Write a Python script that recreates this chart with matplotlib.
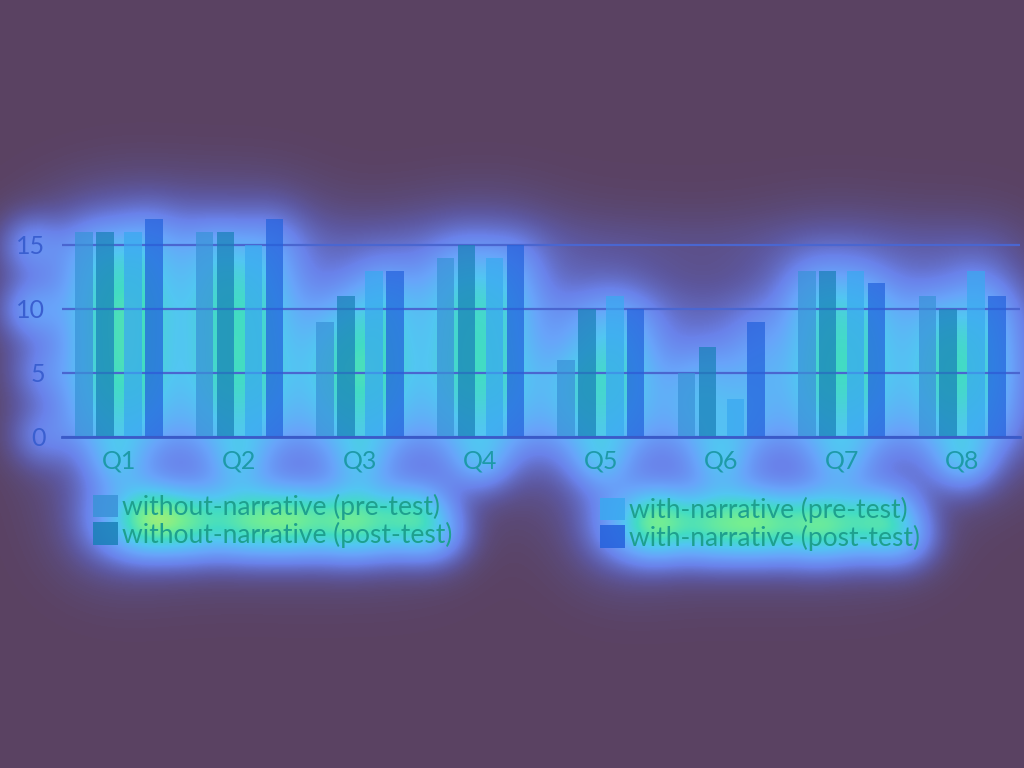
import numpy as np
import matplotlib
matplotlib.use("Agg")
import matplotlib.pyplot as plt
from matplotlib.colors import LinearSegmentedColormap
from matplotlib.patches import Patch, Rectangle

# ---------------- data ----------------
categories = ["Q1", "Q2", "Q3", "Q4", "Q5", "Q6", "Q7", "Q8"]
without_pre = [16, 16, 9, 14, 6, 5, 13, 11]
without_post = [16, 16, 11, 15, 10, 7, 13, 10]
with_pre = [16, 15, 13, 14, 11, 3, 13, 13]
with_post = [17, 17, 13, 15, 10, 9, 12, 11]
series_labels = ["without-narrative (pre-test)", "without-narrative (post-test)",
                 "with-narrative (pre-test)", "with-narrative (post-test)"]
y_ticks = [0, 5, 10, 15]

# ---------------- style ----------------
BG = "#5a4262"
bar_colors = ["#3a92d8", "#1a80b8", "#3aa8f0", "#2462dc"]
offsets = [-0.29, -0.116, 0.116, 0.29]
FONT = ["Lato", "DejaVu Sans"]
plt.rcParams["font.family"] = FONT

W, H = 1024, 768
fig = plt.figure(figsize=(W / 100, H / 100), dpi=100, facecolor=BG)
ax = fig.add_axes([62 / W, (H - 437) / H, (1020 - 62) / W, 17.5 * 12.8 / H])
ax.set_facecolor("none")

x = np.arange(len(categories))
all_series = [without_pre, without_post, with_pre, with_post]
for vals, off, col, lab in zip(all_series, offsets, bar_colors, series_labels):
    ax.bar(x + off, vals, width=0.145, color=col, alpha=0.72, zorder=2, label=lab)

ax.set_xlim(-0.473, 7.48)
ax.set_ylim(0, 17.5)
ax.set_yticks(y_ticks)
ax.set_xticks(x)
ax.set_xticklabels(categories)
ax.grid(axis="y", color="#4a66d0", lw=1.6, zorder=1)
ax.set_axisbelow(True)
for s in ["top", "right", "left"]:
    ax.spines[s].set_visible(False)
ax.spines["bottom"].set_color("#3a5ac8")
ax.spines["bottom"].set_linewidth(2)
ax.spines["bottom"].set_zorder(3)
ax.tick_params(axis="y", length=0, pad=12, labelsize=18, labelcolor="#3a5fd0")
ax.tick_params(axis="x", length=0, pad=9, labelsize=18, labelcolor="#1e9aa8")

handles = [Patch(facecolor=c, alpha=0.85) for c in bar_colors]
common = dict(loc="upper left", frameon=False, fontsize=19, handlelength=0.95,
              handleheight=0.95, handletextpad=0.15, labelspacing=0.05, borderpad=0,
              borderaxespad=0, labelcolor="#1ea08e")
leg1 = fig.legend(handles[:2], series_labels[:2], bbox_to_anchor=(93 / W, 1 - 494 / H), **common)
leg2 = fig.legend(handles[2:], series_labels[2:], bbox_to_anchor=(600 / W, 1 - 497 / H), **common)

# ---------------- saliency-style glow built from the chart itself ----------------
def render_alpha():
    fig.canvas.draw()
    return np.asarray(fig.canvas.buffer_rgba())[..., 3].astype(float) / 255.0

def blur(a, s):
    p = int(3 * s)
    ap = np.pad(a, p)
    hh, ww = ap.shape
    ky = np.fft.fftfreq(hh)[:, None]
    kx = np.fft.rfftfreq(ww)[None, :]
    g = np.exp(-2 * (np.pi * s) ** 2 * (kx ** 2 + ky ** 2))
    out = np.fft.irfft2(np.fft.rfft2(ap) * g, s=(hh, ww))
    return out[p:p + a.shape[0], p:p + a.shape[1]]

fig.patch.set_alpha(0)
mask_all = render_alpha()
hidden = list(ax.patches) + list(ax.get_ygridlines()) + [ax.spines["bottom"]] + \
    list(leg1.legend_handles) + list(leg2.legend_handles)
for a in hidden:
    a.set_visible(False)
mask_text = render_alpha()
for a in hidden:
    a.set_visible(True)
fig.patch.set_alpha(1)
mask_other = np.clip(mask_all - mask_text, 0, 1)

heat = 0.72 * blur(mask_other, 22) + 4.6 * blur(mask_text, 20) + 0.9 * blur(mask_all, 45)
heat = np.clip(heat, 0, 1)

cmap = LinearSegmentedColormap.from_list("glow", [
    (0.00, BG), (0.10, "#5d58a0"), (0.25, "#6a82ea"), (0.42, "#68a4fa"),
    (0.60, "#52c6f2"), (0.74, "#42dcc4"), (0.87, "#74ee92"), (1.00, "#c8f060")])
rgb = cmap(heat)[..., :3]
fig.figimage(rgb, xo=0, yo=0, origin="upper", zorder=-10)

# slightly lighter strip at the right edge of the screenshot
fig.patches.append(Rectangle((1000 / W, 0), 24 / W, 1, transform=fig.transFigure,
                             facecolor="#604c74", edgecolor="none", zorder=-20))

fig.savefig("out.png", dpi=100, facecolor=BG)
